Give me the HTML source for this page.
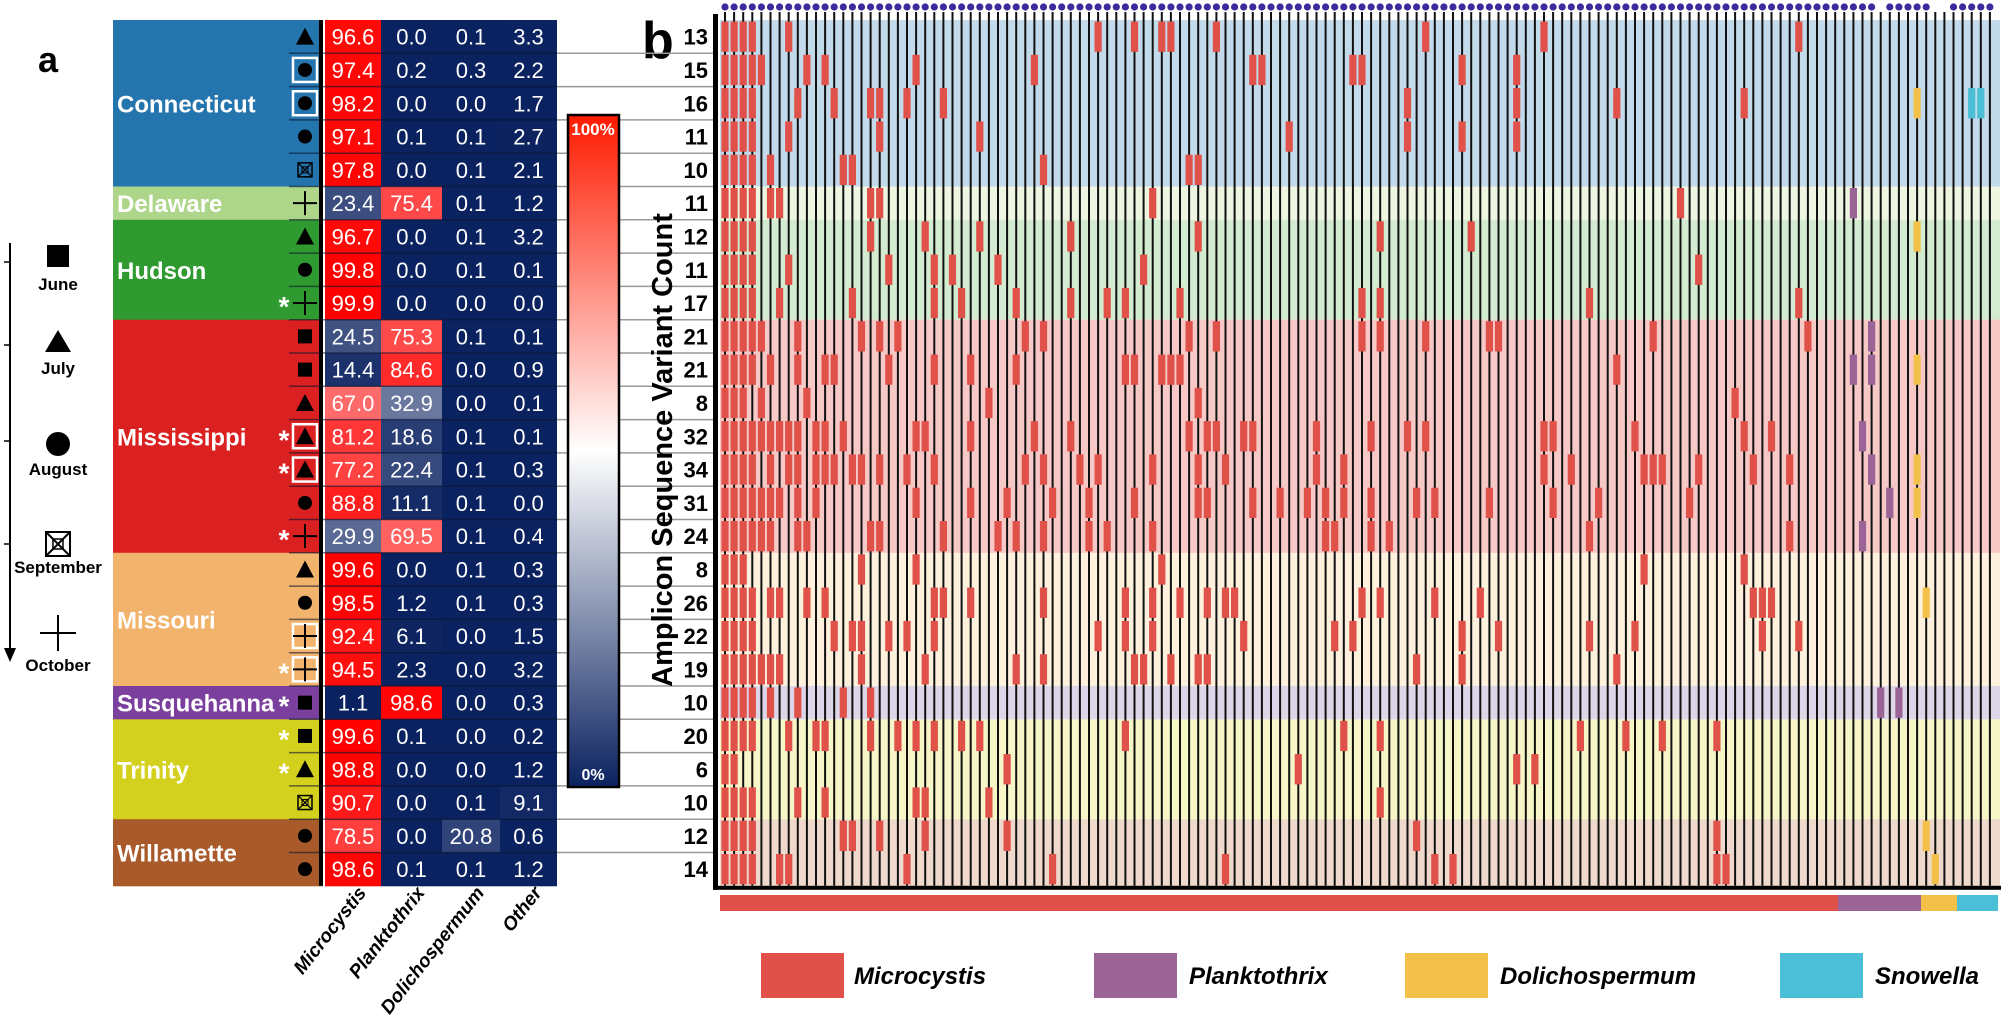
<!DOCTYPE html>
<html><head><meta charset="utf-8"><style>
html,body{margin:0;padding:0;background:#fff}
svg{display:block;font-family:"Liberation Sans",Arial,sans-serif}
</style></head><body>
<svg id="s" width="2006" height="1020" viewBox="0 0 2006 1020" xmlns="http://www.w3.org/2000/svg">
<defs><linearGradient id="cb" x1="0" y1="0" x2="0" y2="1">
<stop offset="0" stop-color="#ff1a00"/><stop offset="0.5" stop-color="#ffffff"/><stop offset="1" stop-color="#0b2260"/></linearGradient></defs>
<g id="g"></g>
</svg>
<script>
var R=[
["▲",0,0,96.6,0.0,0.1,3.3,13],["●",0,1,97.4,0.2,0.3,2.2,15],["●",0,1,98.2,0.0,0.0,1.7,16],["●",0,0,97.1,0.1,0.1,2.7,11],["X",0,0,97.8,0.0,0.1,2.1,10],
["+",0,0,23.4,75.4,0.1,1.2,11],
["▲",0,0,96.7,0.0,0.1,3.2,12],["●",0,0,99.8,0.0,0.1,0.1,11],["+",1,0,99.9,0.0,0.0,0.0,17],
["■",0,0,24.5,75.3,0.1,0.1,21],["■",0,0,14.4,84.6,0.0,0.9,21],["▲",0,0,67.0,32.9,0.0,0.1,8],["▲",1,1,81.2,18.6,0.1,0.1,32],["▲",1,1,77.2,22.4,0.1,0.3,34],["●",0,0,88.8,11.1,0.1,0.0,31],["+",1,0,29.9,69.5,0.1,0.4,24],
["▲",0,0,99.6,0.0,0.1,0.3,8],["●",0,0,98.5,1.2,0.1,0.3,26],["+",0,1,92.4,6.1,0.0,1.5,22],["+",1,1,94.5,2.3,0.0,3.2,19],
["■",1,0,1.1,98.6,0.0,0.3,10],
["■",1,0,99.6,0.1,0.0,0.2,20],["▲",1,0,98.8,0.0,0.0,1.2,6],["X",0,0,90.7,0.0,0.1,9.1,10],
["●",0,0,78.5,0.0,20.8,0.6,12],["●",0,0,98.6,0.1,0.1,1.2,14]];
var G=[["Connecticut",0,5,"#2474ae","#c3daeb"],["Delaware",5,1,"#aed68a","#eef5e0"],["Hudson",6,3,"#2f9a2f","#d3ebd0"],["Mississippi",9,7,"#da2020","#f6c9c7"],["Missouri",16,4,"#f2b46c","#fdf0dc"],["Susquehanna",20,1,"#7b3f9e","#ddd5e8"],["Trinity",21,3,"#d4d01e","#f6f6c8"],["Willamette",24,2,"#a85a2a","#efd9cc"]];
var T=20,H=33.3,o="";
function y(i){return T+i*H}
function col(v){var a=[11,34,96],w=[255,255,255],r=[255,0,0],t,c=[];
 if(v<=50){t=v/50;for(var k=0;k<3;k++)c[k]=Math.round(a[k]+(w[k]-a[k])*t*t*0.9);}else{t=(v-50)/50;for(var k=0;k<3;k++)c[k]=Math.round(w[k]+(r[k]-w[k])*Math.sqrt(t));}
 return "rgb("+c+")";}
o+='<text x="38" y="72" font-size="36" font-weight="bold">a</text>';
o+='<text x="642" y="58" font-size="52" font-weight="bold">b</text>';
G.forEach(function(g){o+='<rect x="113" y="'+y(g[1])+'" width="210" height="'+(g[2]*H+0.5)+'" fill="'+g[3]+'"/>';
 o+='<rect x="720" y="'+y(g[1])+'" width="1280" height="'+(g[2]*H+0.5)+'" fill="'+g[4]+'"/>';
 o+='<text x="117" y="'+(y(g[1])+g[2]*H/2+9)+'" font-size="24" font-weight="bold" fill="#fff">'+g[0]+'</text>';});
for(var i=1;i<26;i++)o+='<line x1="557" x2="716" y1="'+y(i)+'" y2="'+y(i)+'" stroke="#999" stroke-width="1.5"/>';
var cx=[325,381,442,500,557];
R.forEach(function(r,i){var yy=y(i);
 for(var k=0;k<4;k++){o+='<rect x="'+cx[k]+'" y="'+yy+'" width="'+(cx[k+1]-cx[k])+'" height="'+(H+0.5)+'" fill="'+col(r[3+k])+'"/>';
  o+='<text x="'+(cx[k]+cx[k+1])/2+'" y="'+(yy+H/2+8)+'" font-size="22" fill="#fff" text-anchor="middle">'+r[3+k].toFixed(1)+'</text>';}
 if(i>0){o+='<line x1="289" x2="557" y1="'+yy+'" y2="'+yy+'" stroke="#0a1530" stroke-opacity="0.6" stroke-width="1.5"/>';}
 var sx=305,sy=yy+H/2;
 if(r[2])o+='<rect x="'+(sx-12)+'" y="'+(sy-12)+'" width="24" height="24" fill="none" stroke="#fff" stroke-width="2.5"/>';
 if(r[0]=="▲")o+='<polygon points="'+(sx-9)+','+(sy+8)+' '+(sx+9)+','+(sy+8)+' '+sx+','+(sy-9)+'"/>';
 else if(r[0]=="●")o+='<circle cx="'+sx+'" cy="'+sy+'" r="7"/>';
 else if(r[0]=="■")o+='<rect x="'+(sx-7)+'" y="'+(sy-7)+'" width="14" height="14"/>';
 else if(r[0]=="+")o+='<path d="M'+(sx-12)+' '+sy+'h24M'+sx+' '+(sy-12)+'v24" stroke="#000" stroke-width="2"/>';
 else o+='<rect x="'+(sx-7)+'" y="'+(sy-7)+'" width="14" height="14" fill="none" stroke="#000" stroke-width="1.5"/><path d="M'+(sx-7)+' '+(sy-7)+'l14 14M'+(sx+7)+' '+(sy-7)+'l-14 14" stroke="#000" stroke-width="1.2"/><rect x="'+(sx-3)+'" y="'+(sy-3)+'" width="6" height="6" fill="none" stroke="#000"/>';
 if(r[1])o+='<text x="284" y="'+(sy+13)+'" font-size="28" font-weight="bold" fill="#fff" text-anchor="middle">*</text>';
 o+='<text x="708" y="'+(sy+8)+'" font-size="22" font-weight="bold" text-anchor="end">'+r[7]+'</text>';
});
o+='<rect x="319" y="'+T+'" width="4" height="'+(26*H)+'" fill="#000"/>';
o+='<rect x="568" y="115" width="51" height="672" fill="url(#cb)" stroke="#000" stroke-width="2.5"/>';
o+='<text x="593" y="135" font-size="17" font-weight="bold" fill="#fff" text-anchor="middle">100%</text>';
o+='<text x="593" y="780" font-size="16" font-weight="bold" fill="#fff" text-anchor="middle">0%</text>';
["Microcystis","Planktothrix","Dolichospermum","Other"].forEach(function(t,k){var x=(cx[k]+cx[k+1])/2+14;
 o+='<text transform="translate('+x+',893) rotate(-52)" font-size="19" font-weight="bold" font-style="italic" text-anchor="end">'+t+'</text>';});
o+='<line x1="10" y1="243" x2="10" y2="650" stroke="#000" stroke-width="2"/><polygon points="4,648 16,648 10,662"/>';
[262,345,441,544].forEach(function(t){o+='<line x1="4" x2="10" y1="'+t+'" y2="'+t+'" stroke="#000" stroke-width="1.5"/>';});
o+='<rect x="47" y="245" width="22" height="22"/><text x="58" y="290" font-size="17" font-weight="bold" text-anchor="middle">June</text>';
o+='<polygon points="45,352 71,352 58,330"/><text x="58" y="374" font-size="17" font-weight="bold" text-anchor="middle">July</text>';
o+='<circle cx="58" cy="444" r="12"/><text x="58" y="475" font-size="17" font-weight="bold" text-anchor="middle">August</text>';
o+='<rect x="46" y="532" width="24" height="24" fill="none" stroke="#000" stroke-width="2"/><path d="M46 532l24 24M70 532l-24 24" stroke="#000" stroke-width="2"/><rect x="53" y="539" width="10" height="10" fill="none" stroke="#000" stroke-width="1.5"/><text x="58" y="573" font-size="17" font-weight="bold" text-anchor="middle">September</text>';
o+='<path d="M40 633h36M58 615v36" stroke="#000" stroke-width="2"/><text x="58" y="671" font-size="17" font-weight="bold" text-anchor="middle">October</text>';
var N=140,X0=725,DX=9.1,s=12345;
function rnd(){s=(s*1103515245+12345)%2147483648;return s/2147483648;}
for(var c=0;c<N;c++){var x=X0+c*DX;o+='<line x1="'+x+'" x2="'+x+'" y1="12" y2="'+y(26)+'" stroke="#111" stroke-width="2"/>';
 if(!(c==127||c==133||c==134))o+='<circle cx="'+x+'" cy="7" r="3.6" fill="#3b2b9c"/>';}
function bar(c,i,f){o+='<rect x="'+(X0+c*DX-3.6)+'" y="'+(y(i)+1.5)+'" width="7.2" height="'+(H-3)+'" fill="'+f+'"/>';}
var pl=[5,9,10,12,13,14,15,20],yl=[2,6,10,13,14,17,24,25];
R.forEach(function(r,i){var n=r[7],used={},cnt=0;
 pl.forEach(function(p){if(p==i){var c=122+Math.floor(rnd()*7);bar(c,i,"#9a6496");used[c]=1;cnt++;if(i==10||i==20){bar(c+2,i,"#9a6496");cnt++;}}});
 yl.forEach(function(p){if(p==i){bar(131+Math.floor(rnd()*3),i,"#f3c14a");cnt++;}});
 if(i==2){bar(137,i,"#4bbfd6");bar(138,i,"#4bbfd6");cnt++;}
 var nl=Math.min(Math.round(n*0.35),4);for(var c=0;c<nl;c++){used[c]=1;bar(c,i,"#e0514a");cnt++;}
 var tries=0;while(cnt<n&&tries<500){tries++;var u=rnd(),c=Math.floor(120*Math.pow(u,2.3));if(used[c])continue;used[c]=1;bar(c,i,"#e0514a");cnt++;}
});
o+='<rect x="713" y="14" width="5" height="'+(y(26)-14+4)+'" fill="#000"/>';
o+='<rect x="713" y="'+(y(26)+0)+'" width="1288" height="4" fill="#000"/>';
o+='<rect x="720" y="895" width="1118" height="16" fill="#e0514a"/><rect x="1838" y="895" width="83" height="16" fill="#9a6496"/><rect x="1921" y="895" width="36" height="16" fill="#f3c14a"/><rect x="1957" y="895" width="41" height="16" fill="#4bbfd6"/>';
o+='<text transform="translate(672,450) rotate(-90)" font-size="29" font-weight="bold" text-anchor="middle">Amplicon Sequence Variant Count</text>';
[[761,"#e0514a","Microcystis",854],[1094,"#9a6496","Planktothrix",1189],[1405,"#f3c14a","Dolichospermum",1500],[1780,"#4bbfd6","Snowella",1875]].forEach(function(l){
 o+='<rect x="'+l[0]+'" y="953" width="83" height="45" fill="'+l[1]+'"/><text x="'+l[3]+'" y="984" font-size="24" font-weight="bold" font-style="italic">'+l[2]+'</text>';});
document.getElementById("g").innerHTML=o;
</script>
</body></html>
